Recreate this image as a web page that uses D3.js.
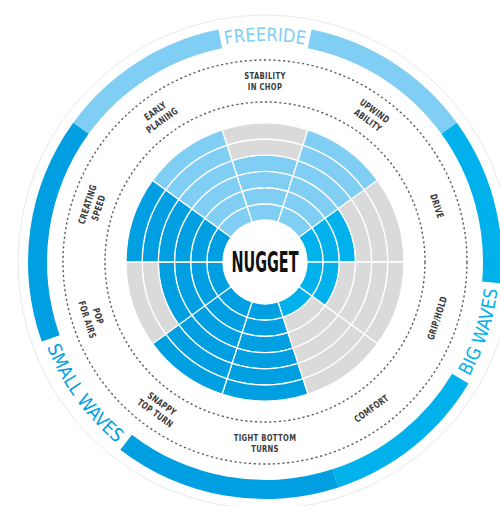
<!DOCTYPE html>
<html>
<head>
<meta charset="utf-8">
<script src="https://cdn.jsdelivr.net/npm/d3@7"></script>
<style>
  html, body { margin: 0; padding: 0; background: #fff; }
  svg { display: block; }
</style>
</head>
<body>
<svg id="chart" width="500" height="506"></svg>
<script>
// board characteristics, clockwise from 12 o'clock
const categories = [
  ["STABILITY", "IN CHOP"],
  ["UPWIND", "ABILITY"],
  ["DRIVE"],
  ["GRIP/HOLD"],
  ["COMFORT"],
  ["TIGHT BOTTOM", "TURNS"],
  ["SNAPPY", "TOP TURN"],
  ["POP", "FOR AIRS"],
  ["CREATING", "SPEED"],
  ["EARLY", "PLANING"]
];
// filled rings out of maxScore
const values = [4, 6, 3, 2, 1, 6, 6, 4, 6, 6];
const categoryGroup = [0, 0, 1, 1, 1, 2, 2, 2, 2, 0];
const groupNames = ["FREERIDE", "BIG WAVES", "SMALL WAVES"];
const groupColors = ["#80cef3", "#00b1ec", "#009fe1"];
const boardName = "NUGGET";
const maxScore = 6;

const width = 500, height = 506;
const cx = 265, cy = 262;
const n = categories.length;
const emptyColor = "#dadada";
const font = "'Liberation Sans Narrow', 'DejaVu Sans Condensed', 'Roboto Condensed', sans-serif";

const svg = d3.select("#chart");
const g = svg.append("g").attr("transform", `translate(${cx},${cy})`);

const angle = d3.scaleLinear().domain([0, n]).range([-Math.PI / n, 2 * Math.PI - Math.PI / n]);
const radius = d3.scaleLinear().domain([0, maxScore]).range([42, 139]);

const rDashIn = 160, rDashOut = 202, rLabel = 181;
const rBandIn = 218, rBandOut = 237, rRim = 247;

// cells: one arc per category per ring
const cells = [];
categories.forEach((c, i) => {
  d3.range(maxScore).forEach(k => {
    cells.push({i, k, filled: k < values[i]});
  });
});

const cellArc = d3.arc()
  .innerRadius(d => radius(d.k))
  .outerRadius(d => radius(d.k + 1))
  .startAngle(d => angle(d.i))
  .endAngle(d => angle(d.i + 1));

g.append("g").selectAll("path")
  .data(cells)
  .join("path")
  .attr("d", cellArc)
  .attr("fill", d => d.filled ? groupColors[categoryGroup[d.i]] : emptyColor)
  .attr("stroke", "#fff")
  .attr("stroke-width", 1.3);

// dashed guide circles
g.selectAll("circle.dash")
  .data([rDashIn, rDashOut])
  .join("circle")
  .attr("class", "dash")
  .attr("r", d => d)
  .attr("fill", "none")
  .attr("stroke", "#5e5e5e")
  .attr("stroke-width", 1.4)
  .attr("stroke-dasharray", "2.2,2.6");

// thin outer rim
g.append("circle")
  .attr("r", rRim)
  .attr("fill", "none")
  .attr("stroke", "#dedede")
  .attr("stroke-width", 0.7);

// category labels
const labels = g.append("g").selectAll("text")
  .data(categories)
  .join("text")
  .attr("transform", (d, i) => {
    const a = (angle(i) + angle(i + 1)) / 2;
    const deg = a * 180 / Math.PI;
    const x = rLabel * Math.sin(a), y = -rLabel * Math.cos(a);
    const rot = Math.cos(a) >= 0 ? deg : deg - 180;
    return `translate(${x},${y}) rotate(${rot}) scale(0.8,1)`;
  })
  .attr("text-anchor", "middle")
  .attr("font-family", font)
  .attr("font-weight", "bold")
  .attr("font-size", 9.5)
  .attr("letter-spacing", 0.4)
  .attr("fill", "#3a3a3a");

labels.selectAll("tspan")
  .data(d => d.map((line, j) => ({line, j, total: d.length})))
  .join("tspan")
  .attr("x", 0)
  .attr("y", d => (d.j - (d.total - 1) / 2) * 11.5)
  .attr("dy", "0.36em")
  .text(d => d.line);

// group bands with a gap for the name
const groups = groupNames.map((name, gi) => {
  const start = d3.range(n).find(i => categoryGroup[i] === gi && categoryGroup[(i - 1 + n) % n] !== gi);
  const count = categoryGroup.filter(v => v === gi).length;
  return {name, gi, a0: angle(start), a1: angle(start + count)};
});

const textLen = [80, 92, 120];
const rMid = (rBandIn + rBandOut) / 2;
const bandArc = d3.arc().innerRadius(rBandIn).outerRadius(rBandOut);
const defs = svg.append("defs");

groups.forEach(gr => {
  const mid = (gr.a0 + gr.a1) / 2;
  const gap = (textLen[gr.gi] / 2 + 5) / rMid;
  g.append("path")
    .attr("d", bandArc({startAngle: gr.a0, endAngle: mid - gap}))
    .attr("fill", groupColors[gr.gi]);
  g.append("path")
    .attr("d", bandArc({startAngle: mid + gap, endAngle: gr.a1}))
    .attr("fill", groupColors[gr.gi]);

  // upper names read clockwise, lower ones anticlockwise
  const top = Math.cos(mid) > 0;
  const capH = 13;
  const r = top ? rMid - capH / 2 : rMid + capH / 2;
  const span = 0.7;
  const p = a => [cx + r * Math.sin(a), cy - r * Math.cos(a)];
  const from = top ? p(mid - span) : p(mid + span);
  const to = top ? p(mid + span) : p(mid - span);
  const id = "band" + gr.gi;
  defs.append("path")
    .attr("id", id)
    .attr("d", `M${from[0]},${from[1]} A${r},${r} 0 0 ${top ? 1 : 0} ${to[0]},${to[1]}`);
  svg.append("text")
    .attr("font-family", font)
    .attr("font-size", 18.5)
    .attr("fill", groupColors[gr.gi])
    .append("textPath")
    .attr("href", "#" + id)
    .attr("startOffset", "50%")
    .attr("text-anchor", "middle")
    .attr("textLength", textLen[gr.gi])
    .attr("lengthAdjust", "spacingAndGlyphs")
    .text(gr.name);
});

// board name in the hub
g.append("text")
  .attr("text-anchor", "middle")
  .attr("dy", "0.36em")
  .attr("font-family", font)
  .attr("font-weight", "bold")
  .attr("font-size", 28)
  .attr("textLength", 67)
  .attr("lengthAdjust", "spacingAndGlyphs")
  .attr("fill", "#111")
  .text(boardName);
</script>
</body>
</html>
